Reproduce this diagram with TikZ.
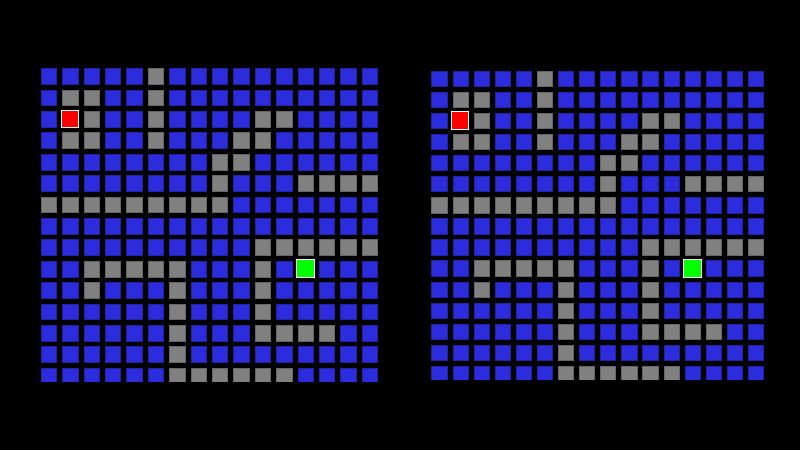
\documentclass[tikz,border=0pt]{standalone}
\definecolor{cellblue}{RGB}{44,44,220}
\definecolor{cellgray}{RGB}{128,128,128}
\definecolor{cellred}{RGB}{255,0,0}
\definecolor{cellgreen}{RGB}{0,255,0}
\tikzset{
  bluecell/.style={fill=cellblue, draw=cellblue!75!black, line width=0.4pt},
  graycell/.style={fill=cellgray, draw=cellgray!80!black, line width=0.4pt},
  startcell/.style={fill=cellred, draw=white, line width=1pt},
  goalcell/.style={fill=cellgreen, draw=white, line width=1pt}
}
\def\graylist{5/0,1/1,2/1,5/1,2/2,5/2,10/2,11/2,1/3,2/3,5/3,9/3,10/3,8/4,9/4,8/5,12/5,13/5,14/5,15/5,0/6,1/6,2/6,3/6,4/6,5/6,6/6,7/6,8/6,10/8,11/8,12/8,13/8,14/8,15/8,2/9,3/9,4/9,5/9,6/9,10/9,2/10,6/10,10/10,6/11,10/11,6/12,10/12,11/12,12/12,13/12,6/13,6/14,7/14,8/14,9/14,10/14,11/14}
% #1 ox, #2 oy, #3 pitch, #4 width, #5 height, #6 clip bottom
\newcommand\drawmazegrid[6]{%
  \begin{scope}
    \clip (0,0) rectangle (800,#6);
    \foreach \r in {0,...,14}{\foreach \c in {0,...,15}{
      \path[bluecell] ({#1+\c*#3},{#2+\r*#3}) rectangle ++(#4,#5);}}
    \foreach \c/\r in \graylist{
      \path[graycell] ({#1+\c*#3},{#2+\r*#3}) rectangle ++(#4,#5);}
    \path[startcell] ({#1+1*#3-1},{#2+2*#3-1}) rectangle ++({#4+2},{#5+2});
    \path[goalcell] ({#1+12*#3-1},{#2+9*#3-1}) rectangle ++({#4+2},{#5+2});
  \end{scope}}
\begin{document}
\begin{tikzpicture}[x=1pt,y=-1pt]
  \useasboundingbox (0,0) rectangle (800,450);
  \fill[black] (0,0) rectangle (800,450);
  \drawmazegrid{41}{68.3}{21.4}{15.4}{15.8}{381}
  \drawmazegrid{431.6}{70.7}{21.1}{15.2}{15.4}{379.3}
\end{tikzpicture}
\end{document}
